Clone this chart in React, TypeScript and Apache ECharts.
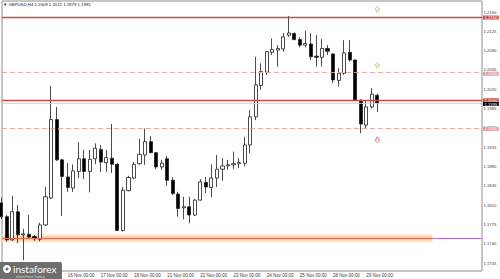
import React, { useEffect, useRef } from "react";
import * as echarts from "echarts";

// GBPUSD H4 candles, 14 Nov 00:00 .. 29 Nov 08:00 (index = bar number)
const opens = [
  1.1814, 1.1789, 1.1747, 1.1798, 1.1756, 1.1757, 1.1753, 1.1748, 1.1774, 1.1823,
  1.1965, 1.1892, 1.1861, 1.1841, 1.1871, 1.1894, 1.1871, 1.1894, 1.1911, 1.1887,
  1.1895, 1.1884, 1.1764, 1.1836, 1.1859, 1.1885, 1.1901, 1.1925, 1.1905, 1.1879,
  1.1894, 1.1855, 1.1830, 1.1805, 1.1807, 1.1792, 1.1819, 1.1851, 1.1842, 1.1859,
  1.1875, 1.1881, 1.1883, 1.1885, 1.1886, 1.1919, 1.1970, 1.2027, 1.2051, 1.2087,
  1.2091, 1.2093, 1.2118, 1.2121, 1.2110, 1.2100, 1.2102, 1.2080, 1.2078, 1.2094,
  1.2084, 1.2036, 1.2049, 1.2087, 1.2073, 1.2000, 1.1955, 1.1988, 1.2009,
];
const highs = [
  1.1823, 1.1792, 1.1827, 1.1810, 1.1767, 1.1792, 1.1756, 1.1778, 1.1843, 1.2026,
  1.1988, 1.1894, 1.1886, 1.1884, 1.1924, 1.1910, 1.1910, 1.1922, 1.1919, 1.1910,
  1.1957, 1.1886, 1.1843, 1.1863, 1.1888, 1.1930, 1.1949, 1.1935, 1.1906, 1.1892,
  1.1899, 1.1861, 1.1834, 1.1825, 1.1825, 1.1821, 1.1857, 1.1861, 1.1884, 1.1901,
  1.1895, 1.1892, 1.1907, 1.1895, 1.1934, 1.1982, 1.2079, 1.2067, 1.2089, 1.2112,
  1.2100, 1.2122, 1.2153, 1.2123, 1.2114, 1.2126, 1.2122, 1.2118, 1.2111, 1.2100,
  1.2085, 1.2058, 1.2109, 1.2109, 1.2074, 1.2002, 1.2000, 1.2022, 1.2012,
];
const lows = [
  1.1785, 1.1744, 1.1745, 1.1741, 1.1710, 1.1749, 1.1745, 1.1744, 1.1772, 1.1821,
  1.1890, 1.1790, 1.1834, 1.1834, 1.1859, 1.1857, 1.1833, 1.1884, 1.1870, 1.1870,
  1.1868, 1.1763, 1.1762, 1.1835, 1.1857, 1.1883, 1.1883, 1.1904, 1.1875, 1.1874,
  1.1845, 1.1828, 1.1789, 1.1784, 1.1777, 1.1790, 1.1818, 1.1832, 1.1824, 1.1843,
  1.1854, 1.1874, 1.1875, 1.1877, 1.1880, 1.1904, 1.1964, 1.2019, 1.2046, 1.2082,
  1.2061, 1.2088, 1.2115, 1.2109, 1.2096, 1.2096, 1.2073, 1.2061, 1.2061, 1.2082,
  1.2031, 1.2025, 1.2046, 1.2070, 1.1999, 1.1940, 1.1949, 1.1985, 1.1979,
];
const closes = [
  1.1789, 1.1747, 1.1798, 1.1756, 1.1758, 1.1752, 1.1749, 1.1774, 1.1825, 1.1965,
  1.1892, 1.1862, 1.1842, 1.1872, 1.1894, 1.1871, 1.1893, 1.1913, 1.1888, 1.1896,
  1.1884, 1.1764, 1.1837, 1.1860, 1.1884, 1.1902, 1.1925, 1.1905, 1.1879, 1.1886,
  1.1855, 1.1831, 1.1804, 1.1807, 1.1792, 1.1819, 1.1852, 1.1843, 1.1859, 1.1875,
  1.1881, 1.1883, 1.1885, 1.1887, 1.1919, 1.1970, 1.2028, 1.2052, 1.2088, 1.2092,
  1.2094, 1.2115, 1.2122, 1.2110, 1.2100, 1.2103, 1.2079, 1.2078, 1.2094, 1.2089,
  1.2037, 1.2049, 1.2086, 1.2073, 1.2000, 1.1957, 1.1988, 1.2011, 1.1995,
];

// Day separators on the time scale (bar index of each 00:00 candle)
const dayTicks = [12, 18, 24, 30, 36, 42, 48, 54, 60, 66];
const dayLabels = [
  "16 Nov 00:00", "17 Nov 00:00", "18 Nov 00:00", "21 Nov 00:00", "22 Nov 00:00",
  "23 Nov 00:00", "24 Nov 00:00", "25 Nov 00:00", "28 Nov 00:00", "29 Nov 00:00",
];
const priceTicks = [
  1.1705, 1.174, 1.1775, 1.181, 1.1845, 1.188, 1.1915, 1.195, 1.1985, 1.202,
  1.2055, 1.209, 1.2125, 1.216,
];

// Levels drawn on the chart
const resistanceLevels = [1.215, 1.2];
const dashedLevels = [1.205, 1.195];
const supportLevel = 1.175;
const supportZoneOuter = [1.1742, 1.1758];
const supportZoneInner = [1.1746, 1.1754];
const supportZoneEnd = 78;
const upTargets = [1.2165, 1.2064];
const downTargets = [1.1928];
const signalBar = 68;

const X_MIN = 0.127;
const X_MAX = 86.94;
const Y_MIN = 1.16905;
const Y_MAX = 1.218;

const RED = "#cf4a40";
const PINK = "#dba3a3";
const PURPLE = "#b46ad0";
const FONT = '"Liberation Sans", Arial, sans-serif';
const LABEL_SIZE = 4.2;

const fmt = (v: number) => v.toFixed(4);

const boxLabel = (bg: string, value: number, dy = 0) => ({
  show: true,
  position: "end",
  distance: 1,
  offset: [0, dy],
  formatter: () => fmt(value),
  backgroundColor: bg,
  color: "#ffffff",
  fontSize: LABEL_SIZE,
  lineHeight: 4,
  padding: [0, 1.5, 0, 1.5],
  fontFamily: FONT,
});

const UP_ARROW = "path://M5 0 L10 5 L7 5 L7 10 L3 10 L3 5 L0 5 Z";
const DOWN_ARROW = "path://M3 0 L7 0 L7 5 L10 5 L5 10 L0 5 L3 5 Z";

export default function App() {
  const ref = useRef<HTMLDivElement>(null);

  useEffect(() => {
    if (!ref.current) return;
    const chart = echarts.init(ref.current, undefined, { renderer: "svg" });
    const last = opens.length - 1;
    const candleData = opens.map((o, i) => [i, o, closes[i], lows[i], highs[i]]);

    const levelLines: any[] = [];
    resistanceLevels.forEach((v) =>
      levelLines.push({
        yAxis: v,
        lineStyle: { color: RED, width: 1.4, type: "solid" },
        label: boxLabel(RED, v),
      })
    );
    dashedLevels.forEach((v) =>
      levelLines.push({
        yAxis: v,
        lineStyle: { color: PINK, width: 0.9, type: [5, 3] },
        label: boxLabel("#e29a9a", v, 1),
      })
    );
    levelLines.push([
      { coord: [X_MIN, supportLevel], lineStyle: { color: "#d66e5c", width: 1, type: "solid" }, label: { show: false } },
      { coord: [supportZoneEnd, supportLevel] },
    ]);
    levelLines.push([
      { coord: [supportZoneEnd, supportLevel], lineStyle: { color: PURPLE, width: 1, type: "solid" }, label: { show: false } },
      { coord: [X_MAX, supportLevel] },
    ]);
    levelLines.push({
      yAxis: supportLevel,
      lineStyle: { opacity: 0 },
      label: boxLabel(PURPLE, supportLevel),
    });
    // bid line at the last close
    levelLines.push({
      yAxis: closes[last],
      lineStyle: { color: "#dccaca", width: 0.8, type: "solid" },
      label: boxLabel("#000000", closes[last], 1),
    });

    chart.setOption({
      animation: false,
      backgroundColor: "#ffffff",
      textStyle: { fontFamily: FONT },
      grid: {
        left: 2,
        right: 18,
        top: 1,
        bottom: 8,
        show: true,
        borderColor: "#8e8e8e",
        borderWidth: 1,
        backgroundColor: "transparent",
      },
      xAxis: {
        type: "value",
        min: X_MIN,
        max: X_MAX,
        splitLine: { show: false },
        axisLine: { show: false },
        axisTick: { show: false },
        axisLabel: {
          customValues: dayTicks,
          formatter: (v: number) => dayLabels[dayTicks.indexOf(Math.round(v))] ?? "",
          align: "left",
          fontSize: 4.5,
          color: "#3a3a3a",
          margin: 1.5,
          fontFamily: FONT,
        },
      },
      yAxis: {
        type: "value",
        position: "right",
        min: Y_MIN,
        max: Y_MAX,
        scale: true,
        splitLine: { show: false },
        axisLine: { show: false },
        axisTick: { show: false },
        axisLabel: {
          customValues: priceTicks,
          formatter: (v: number) => fmt(v),
          fontSize: LABEL_SIZE,
          lineHeight: 4,
          color: "#3a3a3a",
          margin: 1.5,
          fontFamily: FONT,
        },
      },
      series: [
        {
          type: "candlestick",
          data: candleData,
          barWidth: 3.6,
          clip: true,
          itemStyle: {
            color: "#ffffff",
            color0: "#000000",
            borderColor: "#1e1e1e",
            borderColor0: "#1e1e1e",
            borderWidth: 0.8,
          },
          markArea: {
            silent: true,
            label: { show: false },
            data: [
              [
                { coord: [X_MIN, supportZoneOuter[0]], itemStyle: { color: "#fde8d3", opacity: 1 } },
                { coord: [supportZoneEnd, supportZoneOuter[1]] },
              ],
              [
                { coord: [X_MIN, supportZoneInner[0]], itemStyle: { color: "#f8d0a6", opacity: 1 } },
                { coord: [supportZoneEnd, supportZoneInner[1]] },
              ],
            ],
          },
          markLine: {
            silent: true,
            symbol: ["none", "none"],
            precision: 4,
            lineStyle: { color: RED, width: 1, type: "solid" },
            data: levelLines,
          },
        },
        {
          type: "scatter",
          silent: true,
          z: 6,
          data: upTargets.map((v) => [signalBar, v]),
          symbol: UP_ARROW,
          symbolSize: [5, 5.5],
          itemStyle: { color: "#ffffff", borderColor: "#c8b45a", borderWidth: 0.7, opacity: 1 },
        },
        {
          type: "scatter",
          silent: true,
          z: 6,
          data: downTargets.map((v) => [signalBar, v]),
          symbol: DOWN_ARROW,
          symbolSize: [5, 5.5],
          itemStyle: { color: "#ffffff", borderColor: "#d9534f", borderWidth: 0.7, opacity: 1 },
        },
      ],
      graphic: [
        {
          type: "text",
          left: 3,
          top: 2.5,
          z: 10,
          style: {
            text: `▼ GBPUSD,H4 ${fmt(opens[last])} ${fmt(highs[last])} ${fmt(lows[last])} ${fmt(closes[last])}`,
            fontSize: 4.3,
            fill: "#111111",
            fontFamily: FONT,
          },
        },
        {
          type: "group",
          left: 0,
          top: 262,
          z: 20,
          children: [
            { type: "rect", shape: { x: 0, y: 0, width: 62, height: 17, r: [0, 2, 0, 0] }, style: { fill: "#6e6e6e" } },
            { type: "circle", shape: { cx: 7, cy: 7, r: 4 }, style: { fill: "#ffffff" } },
            { type: "circle", shape: { cx: 7, cy: 7, r: 1.5 }, style: { fill: "#6e6e6e" } },
            {
              type: "text",
              x: 13,
              y: 7,
              style: {
                text: "instaforex",
                fontSize: 10,
                fill: "#ffffff",
                fontFamily: "Lato, 'Open Sans', sans-serif",
                verticalAlign: "middle",
              },
            },
            {
              type: "text",
              x: 16,
              y: 14.5,
              style: {
                text: "Instant Forex Trading",
                fontSize: 3,
                fill: "#d6d6d6",
                fontFamily: FONT,
                verticalAlign: "middle",
              },
            },
          ],
        },
      ],
    });
    return () => chart.dispose();
  }, []);

  return (
    <div
      ref={ref}
      style={{ position: "fixed", left: 0, top: 0, width: 500, height: 279 }}
    />
  );
}
